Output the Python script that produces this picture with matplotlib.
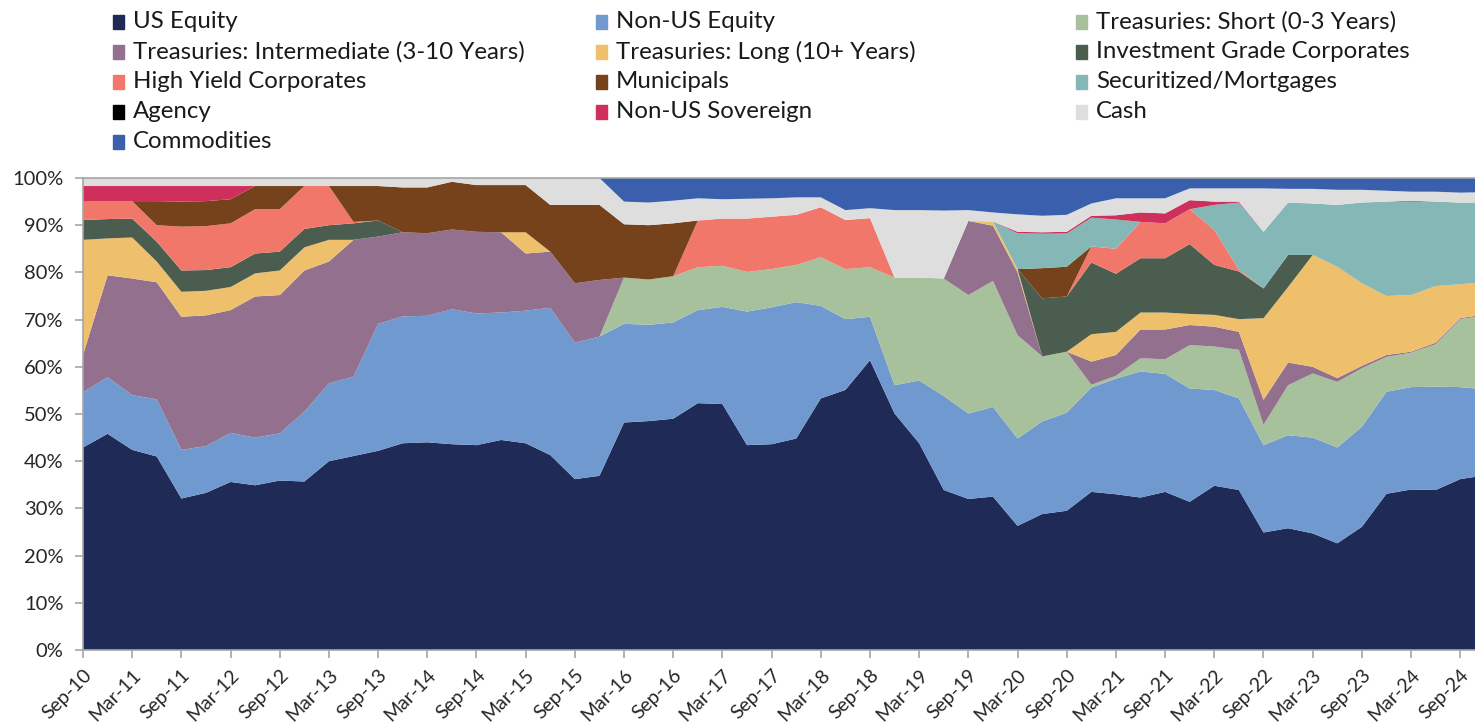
import pandas as pd
import matplotlib.pyplot as plt
from matplotlib.patches import Rectangle

plt.rcParams['font.family'] = ['Lato', 'DejaVu Sans']

# quarterly allocations (%), Sep-10 .. Dec-24
quarters = pd.date_range('2010-09-30', periods=58, freq='QE').strftime('%b-%y')

us_equity = [42.9, 45.8, 42.4, 41.0, 32.1, 33.3, 35.6, 34.9, 35.9, 35.7,
             40.0, 41.1, 42.2, 43.8, 44.0, 43.6, 43.4, 44.5, 43.8, 41.3,
             36.2, 36.9, 48.2, 48.5, 49.0, 52.3, 52.1, 43.4, 43.6, 44.8,
             53.3, 55.1, 61.4, 50.1, 43.8, 33.9, 32.0, 32.5, 26.3, 28.8,
             29.5, 33.5, 33.0, 32.3, 33.5, 31.4, 34.8, 33.9, 24.9, 25.8,
             24.7, 22.6, 26.1, 33.1, 34.0, 33.9, 36.2, 37.0]
non_us_equity = [11.7, 12.0, 11.6, 12.1, 10.3, 9.9, 10.4, 10.1, 10.0, 14.8,
                 16.5, 16.8, 26.9, 26.9, 26.8, 28.6, 27.9, 27.0, 28.1, 31.2,
                 28.9, 29.5, 20.9, 20.4, 20.4, 19.7, 20.6, 28.3, 29.0, 28.9,
                 19.6, 15.0, 9.2, 6.0, 13.3, 19.9, 18.1, 19.0, 18.5, 19.6,
                 20.8, 22.1, 24.5, 26.7, 25.0, 24.0, 20.3, 19.4, 18.5, 19.7,
                 20.3, 20.3, 21.2, 21.6, 21.7, 21.9, 19.5, 18.2]
tsy_short = [0, 0, 0, 0, 0, 0, 0, 0, 0, 0,
             0, 0, 0, 0, 0, 0, 0, 0, 0, 0,
             0, 0, 9.8, 9.6, 9.8, 9.1, 8.7, 8.4, 8.1, 7.9,
             10.3, 10.6, 10.5, 22.8, 21.8, 24.9, 25.1, 26.7, 21.9, 13.8,
             12.9, 0.6, 0.6, 2.8, 3.1, 9.2, 9.2, 10.3, 4.3, 10.6,
             13.6, 13.9, 12.4, 7.4, 7.3, 9.0, 14.4, 15.7]
tsy_inter = [7.9, 21.6, 24.7, 24.8, 28.2, 27.7, 26.0, 29.9, 29.3, 29.9,
             25.8, 29.0, 18.5, 17.8, 17.5, 16.9, 17.3, 17.0, 12.1, 11.9,
             12.6, 12.0, 0, 0, 0, 0, 0, 0, 0, 0,
             0, 0, 0, 0, 0, 0, 15.7, 11.7, 13.3, 0,
             0, 4.9, 4.4, 6.1, 6.3, 4.25, 4.2, 3.8, 5.3, 4.8,
             1.4, 0.8, 0.5, 0.4, 0.2, 0.3, 0.2, 0.2]
tsy_long = [24.4, 7.8, 8.7, 4.4, 5.3, 5.2, 4.9, 4.9, 5.2, 4.9,
            4.6, 0, 0, 0, 0, 0, 0, 0, 4.5, 0,
            0, 0, 0, 0, 0, 0, 0, 0, 0, 0,
            0, 0, 0, 0, 0, 0, 0, 0.9, 0.7, 0,
            0, 5.8, 4.9, 3.6, 3.6, 2.35, 2.5, 2.7, 17.3, 16.0,
            23.7, 23.6, 17.5, 12.5, 12.0, 12.0, 7.2, 6.9]
ig_corp = [4.2, 4.1, 4.0, 4.2, 4.5, 4.4, 4.2, 4.2, 4.0, 3.9,
           3.1, 3.5, 3.4, 0, 0, 0, 0, 0, 0, 0,
           0, 0, 0, 0, 0, 0, 0, 0, 0, 0,
           0, 0, 0, 0, 0, 0, 0, 0, 0, 12.3,
           11.7, 15.2, 12.3, 11.5, 11.5, 14.8, 10.6, 10.1, 6.3, 6.8,
           0, 0, 0, 0, 0, 0, 0, 0]
hy_corp = [3.9, 3.8, 3.7, 3.5, 9.3, 9.3, 9.3, 9.4, 9.0, 9.1,
           8.3, 0.3, 0, 0, 0, 0, 0, 0, 0, 0,
           0, 0, 0, 0, 0, 9.9, 10.0, 11.3, 11.1, 10.6,
           10.6, 10.4, 10.4, 0, 0, 0, 0, 0, 0, 0,
           0, 3.4, 5.3, 7.7, 7.4, 7.4, 7.4, 0.4, 0, 0,
           0, 0, 0, 0, 0, 0, 0, 0]
municipals = [0, 0, 0, 5.1, 5.3, 5.3, 5.1, 4.9, 4.9, 0,
              0, 7.6, 7.3, 9.5, 9.7, 10.1, 9.9, 10.0, 10.0, 9.9,
              16.6, 15.9, 11.3, 11.5, 11.2, 0, 0, 0, 0, 0,
              0, 0, 0, 0, 0, 0, 0, 0, 0, 6.4,
              6.3, 0, 0, 0, 0, 0, 0, 0, 0, 0,
              0, 0, 0, 0, 0, 0, 0, 0]
securitized = [0, 0, 0, 0, 0, 0, 0, 0, 0, 0,
               0, 0, 0, 0, 0, 0, 0, 0, 0, 0,
               0, 0, 0, 0, 0, 0, 0, 0, 0, 0,
               0, 0, 0, 0, 0, 0, 0, 0, 7.6, 7.3,
               7.05, 6.1, 6.2, 0, 0, 0, 5.3, 14.2, 12.0, 11.1,
               10.9, 13.1, 17.1, 20.0, 19.8, 17.9, 17.3, 16.8]
agency = [0] * 58
non_us_sov = [3.3, 3.2, 3.2, 3.2, 3.3, 3.2, 2.8, 0, 0, 0,
              0, 0, 0, 0, 0, 0, 0, 0, 0, 0,
              0, 0, 0, 0, 0, 0, 0, 0, 0, 0,
              0, 0, 0, 0, 0, 0, 0, 0, 0.3, 0.3,
              0.35, 0.4, 0.9, 2.0, 2.1, 1.9, 0.7, 0.2, 0, 0,
              0, 0, 0, 0, 0.2, 0, 0, 0]
cash = [1.7, 1.7, 1.7, 1.7, 1.7, 1.7, 1.7, 1.7, 1.7, 1.7,
        1.7, 1.7, 1.7, 2.0, 2.0, 0.8, 1.5, 1.5, 1.5, 5.7,
        5.7, 5.7, 4.8, 4.8, 4.8, 4.7, 4.1, 4.2, 3.9, 3.7,
        2.1, 2.1, 2.1, 14.3, 14.3, 14.4, 2.3, 1.9, 3.7, 3.5,
        3.6, 2.6, 3.6, 3.0, 3.2, 2.5, 2.8, 2.8, 9.2, 2.9,
        3.1, 3.2, 2.7, 2.3, 1.9, 2.1, 2.1, 2.2]
commodities = [0, 0, 0, 0, 0, 0, 0, 0, 0, 0,
               0, 0, 0, 0, 0, 0, 0, 0, 0, 0,
               0, 0, 5.0, 5.2, 4.8, 4.3, 4.5, 4.4, 4.3, 4.1,
               4.1, 6.8, 6.4, 6.8, 6.8, 6.9, 6.8, 7.3, 7.8, 8.0,
               7.8, 5.4, 4.3, 4.3, 4.3, 2.2, 2.2, 2.2, 2.2, 2.3,
               2.3, 2.5, 2.5, 2.7, 2.9, 2.9, 3.1, 3.0]

names = ['US Equity', 'Non-US Equity', 'Treasuries: Short (0-3 Years)',
         'Treasuries: Intermediate (3-10 Years)', 'Treasuries: Long (10+ Years)',
         'Investment Grade Corporates', 'High Yield Corporates', 'Municipals',
         'Securitized/Mortgages', 'Agency', 'Non-US Sovereign', 'Cash', 'Commodities']
series = [us_equity, non_us_equity, tsy_short, tsy_inter, tsy_long, ig_corp, hy_corp,
          municipals, securitized, agency, non_us_sov, cash, commodities]
colors = ['#202A57', '#7099CF', '#A6C19B', '#93718E', '#EFC06B', '#4B5D4F', '#F2776B',
          '#75421B', '#84B7B5', '#000000', '#CF2F5B', '#DEDEDE', '#3A60AD']

W, H = 1475, 727
fig = plt.figure(figsize=(W / 100, H / 100), dpi=100)
ax = fig.add_axes([83 / W, 77 / H, 1392 / W, 472 / H])

x = list(range(len(quarters)))
ax.stackplot(x, *series, colors=colors, linewidth=0, antialiased=True)

ax.set_xlim(0, 56.6)
ax.set_ylim(0, 100)
ax.set_yticks(range(0, 101, 10))
ax.set_yticklabels([f'{v}%' for v in range(0, 101, 10)])
ax.set_xticks(x[::2])
ax.set_xticklabels(quarters[::2], rotation=45, ha='right', rotation_mode='anchor')

for side in ['left', 'bottom', 'top']:
    ax.spines[side].set_color('#A6A6A6')
    ax.spines[side].set_linewidth(1.2)
ax.spines['right'].set_visible(False)
ax.tick_params(axis='both', colors='#A6A6A6', length=6, width=1.2, labelcolor='#262626')
ax.tick_params(axis='y', pad=8, labelsize=14.5)
ax.tick_params(axis='x', pad=6, labelsize=14)

# legend laid out like the source: three columns, filled row by row
col_x = [133, 616, 1096]
row_y = [22, 52, 82, 112, 142]
for k, (name, c) in enumerate(zip(names, colors)):
    tx = col_x[k % 3]
    ty = row_y[k // 3]
    fig.patches.append(Rectangle(((tx - 20) / W, 1 - (ty + 7) / H), 11 / W, 14 / H,
                                 color=c, transform=fig.transFigure))
    fig.text(tx / W, 1 - ty / H, name, fontsize=17.3, va='center', ha='left',
             color='#1A1A1A')

fig.savefig('out.png', dpi=100)
